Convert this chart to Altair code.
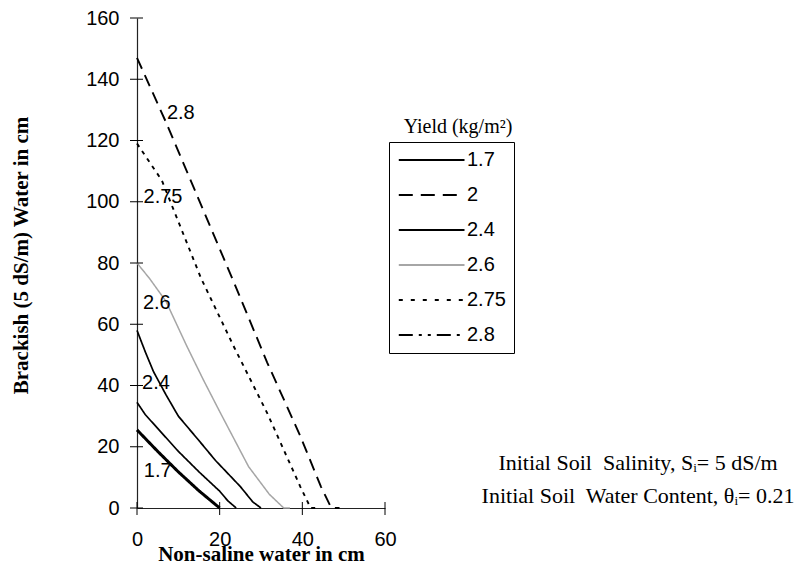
import altair as alt
import pandas as pd

# ---------------- data ----------------
series_names = ["1.7", "2", "2.4", "2.6", "2.75", "2.8"]

x_1_7 = [0, 5, 10, 15, 20]
y_1_7 = [25.5, 18.5, 11.8, 5.6, 0]
x_2 = [0, 2, 5, 10, 15, 20, 22, 24]
y_2 = [34.5, 30.5, 26, 18.5, 11.8, 5.5, 2.3, 0]
x_2_4 = [0, 2, 4, 7, 10, 15, 19, 25, 28, 30]
y_2_4 = [58, 51, 44.5, 37, 30, 22, 15.5, 7, 2, 0]
x_2_6 = [0, 3, 7, 12, 16, 20, 27, 32, 35.5, 37]
y_2_6 = [80, 75, 67.5, 53, 42, 31.5, 13.5, 4.5, 0, 0]
x_2_75 = [0, 6, 15.5, 23.5, 31.5, 39.5, 42, 44]
y_2_75 = [119, 107, 75, 52.5, 31, 7, 0, 0]
x_2_8 = [0, 7, 23.5, 31.5, 39.5, 44.5, 47, 49]
y_2_8 = [147, 126, 73.5, 47.5, 23.5, 7, 0, 0]

label_text = ["2.8", "2.75", "2.6", "2.4", "1.7"]
label_x = [10.6, 6.3, 4.8, 4.6, 5.0]
label_y = [129, 101.7, 67, 40.8, 12.1]

x_ticks = [0, 20, 40, 60]
y_ticks = [0, 20, 40, 60, 80, 100, 120, 140, 160]

x_title = "Non-saline water in cm"
y_title = "Brackish (5 dS/m) Water  in cm"
legend_title = "Yield (kg/m\u00b2)"
note_text = ("Initial Soil\u00a0 Salinity, S\u1d62= 5 dS/m\n"
             "Initial Soil\u00a0 Water Content, \u03b8\u1d62= 0.21")

# ---------------- styles ----------------
plot_colors = ["black", "black", "black", "#a6a6a6", "black", "black"]
plot_dashes = [[1, 0], [1, 0], [1, 0], [1, 0], [4, 5], [12, 7]]
plot_widths = [3, 1.7, 1.7, 1.5, 1.9, 1.9]
legend_dashes = [[1, 0], [14, 8], [1, 0], [1, 0], [4, 8], [14, 6, 3, 6, 3, 6]]

W, H = 248, 490

# ---------------- tables ----------------
xs = [x_1_7, x_2, x_2_4, x_2_6, x_2_75, x_2_8]
ys = [y_1_7, y_2, y_2_4, y_2_6, y_2_75, y_2_8]
rows = []
for name, xv, yv in zip(series_names, xs, ys):
    for i, (a, b) in enumerate(zip(xv, yv)):
        rows.append({"series": name, "x": a, "y": b, "i": i})
df = pd.DataFrame(rows)
labels_df = pd.DataFrame({"x": label_x, "y": label_y, "t": label_text})
xt_df = pd.DataFrame({"x": x_ticks})
yt_df = pd.DataFrame({"y": y_ticks})

x_scale = alt.Scale(domain=[0, 60], nice=False, zero=True)
y_scale = alt.Scale(domain=[0, 160], nice=False, zero=True)
x_axis = alt.Axis(values=x_ticks, title=x_title, labelPadding=21, labelFlush=False,
                  titleY=52, titleBaseline="alphabetic")
y_axis = alt.Axis(values=y_ticks, title=y_title, labelPadding=18,
                  titleX=-116, titleY=237, titleAngle=270, titleAlign="center",
                  titleBaseline="middle")
X = lambda: alt.X("x:Q", scale=x_scale, axis=x_axis)
Y = lambda: alt.Y("y:Q", scale=y_scale, axis=y_axis)

lines = alt.Chart(df).mark_line(strokeCap="butt").encode(
    x=X(), y=Y(),
    detail="series:N",
    order="i:Q",
    color=alt.Color("series:N", scale=alt.Scale(domain=series_names, range=plot_colors), legend=None),
    strokeDash=alt.StrokeDash("series:N", scale=alt.Scale(domain=series_names, range=plot_dashes), legend=None),
    strokeWidth=alt.StrokeWidth("series:N", scale=alt.Scale(type="ordinal", domain=series_names, range=plot_widths), legend=None),
)

labels = alt.Chart(labels_df).mark_text(
    font="Liberation Sans", fontSize=20, color="black", align="center", baseline="middle"
).encode(x=X(), y=Y(), text="t:N")

ytick_rules = alt.Chart(yt_df).mark_rule(color="black", strokeWidth=1).encode(
    y=Y(), x=alt.value(-7), x2=alt.value(6),
)
xtick_rules = alt.Chart(xt_df).mark_rule(color="black", strokeWidth=1).encode(
    x=X(), y=alt.value(H - 6), y2=alt.value(H + 7),
)

leg = alt.Legend(
    title=None, orient="none", legendX=252, legendY=124,
    symbolType="M-1,0H7", symbolSize=270, symbolStrokeWidth=2,
    labelOffset=50, labelFont="Liberation Sans", labelFontSize=20, labelColor="black",
    rowPadding=15, padding=8, strokeColor="black", fillColor="white",
)
legend_layer = alt.Chart(df).transform_filter("false").mark_line().encode(
    x=X(), y=Y(),
    color=alt.Color("series:N", scale=alt.Scale(domain=series_names, range=plot_colors), legend=leg),
    strokeDash=alt.StrokeDash("series:N", scale=alt.Scale(domain=series_names, range=legend_dashes), legend=leg),
)

legend_title_layer = alt.Chart(pd.DataFrame({"t": [legend_title]})).mark_text(
    font="Liberation Serif", fontSize=20, color="black", align="center", baseline="alphabetic"
).encode(x=alt.value(321), y=alt.value(115), text="t:N")

note_layer = alt.Chart(pd.DataFrame({"t": [note_text]})).mark_text(
    font="Liberation Serif", fontSize=22, color="black", align="center", baseline="middle",
    lineBreak="\n", lineHeight=33
).encode(x=alt.value(501), y=alt.value(445), text="t:N")

chart = alt.layer(
    lines, labels, ytick_rules, xtick_rules, legend_layer, legend_title_layer, note_layer
).resolve_scale(
    color="independent", strokeDash="independent"
).properties(
    width=W, height=H,
    padding={"left": 10, "top": 8, "right": 0, "bottom": 0},
).configure_view(stroke=None).configure_axis(
    grid=False, ticks=False, domainColor="#222", domainWidth=1.2,
    labelFont="Liberation Sans", labelFontSize=20, labelColor="black",
    titleFont="Liberation Serif", titleFontSize=21, titleFontWeight="bold", titleColor="black",
)

chart.save("out.html", embed_options={"renderer": "svg", "actions": False})
